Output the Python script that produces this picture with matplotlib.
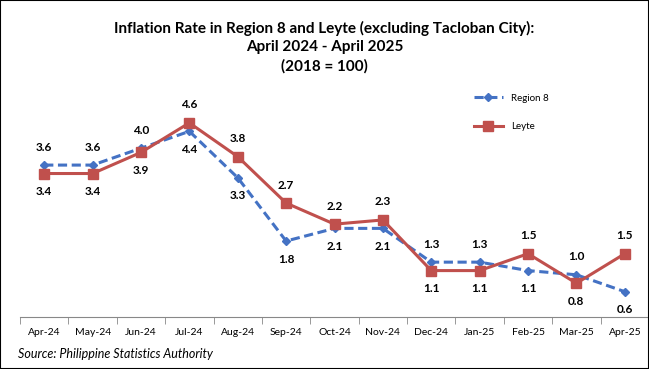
import numpy as np
import matplotlib.pyplot as plt
from matplotlib.patches import Rectangle

plt.rcParams['font.family'] = ['Lato', 'DejaVu Sans']

months = ['Apr-24', 'May-24', 'Jun-24', 'Jul-24', 'Aug-24', 'Sep-24', 'Oct-24',
          'Nov-24', 'Dec-24', 'Jan-25', 'Feb-25', 'Mar-25', 'Apr-25']
region8 = [3.6, 3.6, 4.0, 4.4, 3.3, 1.8, 2.1, 2.1, 1.3, 1.3, 1.1, 1.0, 0.6]
leyte = [3.4, 3.4, 3.9, 4.6, 3.8, 2.7, 2.2, 2.3, 1.1, 1.1, 1.5, 0.8, 1.5]
# label above (1) or below (-1) the point
region8_pos = [1, 1, 1, -1, -1, -1, -1, -1, 1, 1, -1, 1, -1]
leyte_pos = [-1, -1, -1, 1, 1, 1, 1, 1, -1, -1, 1, -1, 1]

blue = '#4472C4'
red = '#C0504D'

fig = plt.figure(figsize=(6.49, 3.69), dpi=100)
ax = fig.add_axes([20/649, 1-317/369, 629/649, (317-106)/369])

x = np.arange(len(months))
ax.plot(x, region8, color=blue, lw=2.2, ls=(0, (3, 1.5)), marker='D', ms=4.5,
        label='Region 8')
ax.plot(x, leyte, color=red, lw=2.2, marker='s', ms=7, label='Leyte')

for xi, v, p in zip(x, region8, region8_pos):
    ax.annotate(f'{v:.1f}', (xi, v), xytext=(0, 13*p), textcoords='offset points',
                ha='center', va='center', fontsize=8.5, fontweight='bold')
for xi, v, p in zip(x, leyte, leyte_pos):
    ax.annotate(f'{v:.1f}', (xi, v), xytext=(0, 13*p), textcoords='offset points',
                ha='center', va='center', fontsize=8.5, fontweight='bold')

ax.set_xlim(-0.5, len(months) - 0.5)
ax.set_ylim(0, 5)
ax.set_xticks(x)
ax.set_xticklabels(months, fontsize=7.5)
ax.set_xticks(np.arange(-0.5, len(months)), minor=True)
ax.tick_params(axis='x', which='major', length=0, pad=8)
ax.tick_params(axis='x', which='minor', length=5, color='#888888')
ax.set_yticks([])
for s in ['top', 'right', 'left']:
    ax.spines[s].set_visible(False)
ax.spines['bottom'].set_color('#888888')

leg = ax.legend(loc='upper left', bbox_to_anchor=(445/629, 1.1), frameon=False,
                fontsize=7, handlelength=3, labelspacing=2.0)

fig.text(0.5, 1-28/369, 'Inflation Rate in Region 8 and Leyte (excluding Tacloban City):',
         ha='center', va='center', fontsize=11, fontweight='bold')
fig.text(0.5, 1-47/369, 'April 2024 - April 2025', ha='center', va='center',
         fontsize=11, fontweight='bold')
fig.text(0.5, 1-66/369, '(2018 = 100)', ha='center', va='center',
         fontsize=11, fontweight='bold')
fig.text(18/649, 1-354/369, 'Source: Philippine Statistics Authority',
         ha='left', va='center', fontsize=9, style='italic')

fig.patches.append(Rectangle((0, 0), 1, 1, transform=fig.transFigure, fill=False,
                             edgecolor='black', lw=1.5))

fig.savefig('out.png', dpi=100)
